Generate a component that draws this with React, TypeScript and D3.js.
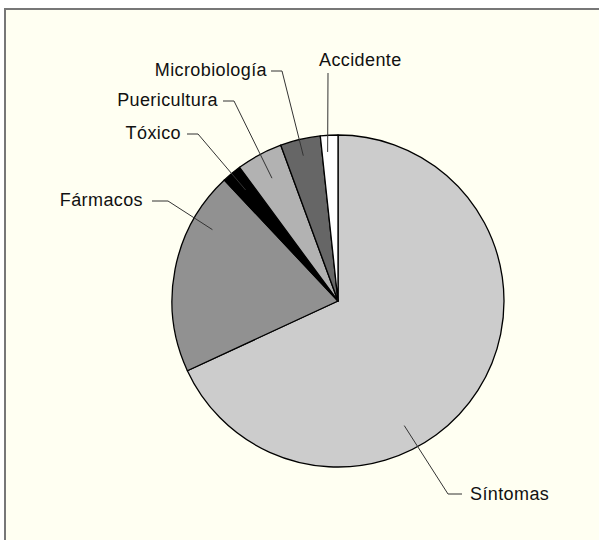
import React from 'react';
import * as d3 from 'd3';

const categories = ['Síntomas', 'Fármacos', 'Tóxico', 'Puericultura', 'Microbiología', 'Accidente'];
const values = [68.1, 19.9, 1.9, 4.5, 3.9, 1.7];
const shades = ['#cccccc', '#919191', '#000000', '#b2b2b2', '#666666', '#ffffff'];
// where each leader line starts inside its slice: fraction of the slice angle, fraction of the radius
const pointerAngle = [0.62, 0.76, 0.5, 0.5, 0.48, 0.35];
const pointerRadius = [0.85, 0.87, 0.87, 0.84, 0.9, 0.9];

// label placement (text x/y, anchor, horizontal hook from x1 to x2 at text line)
const labelLayout = [
  { x: 470, y: 500, anchor: 'start', hook: [462, 448], hy: 494 },
  { x: 143, y: 206, anchor: 'end', hook: [152, 168], hy: 201 },
  { x: 181, y: 139, anchor: 'end', hook: [187, 198], hy: 134 },
  { x: 218, y: 106, anchor: 'end', hook: [223, 234], hy: 101 },
  { x: 267, y: 76, anchor: 'end', hook: [271, 282], hy: 71 },
  { x: 319, y: 66, anchor: 'start', hook: [328, 328], hy: 73 },
];

const W = 599;
const H = 540;
const cx = 338;
const cy = 301;
const R = 166;

const App = () => {
  const pie = d3
    .pie<number>()
    .sort(null)
    .value((d) => d)
    .startAngle(0)
    .endAngle(2 * Math.PI);
  const arcs = pie(values);
  const arc = d3.arc<d3.PieArcDatum<number>>().innerRadius(0).outerRadius(R);

  const pointer = (i: number) => {
    const a = arcs[i];
    const ang = a.startAngle + (a.endAngle - a.startAngle) * pointerAngle[i];
    const r = R * pointerRadius[i];
    return [cx + r * Math.sin(ang), cy - r * Math.cos(ang)];
  };

  return (
    <div style={{ position: 'absolute', left: 0, top: 0 }}>
      <svg width={W} height={H} style={{ display: 'block' }}>
        <rect x={0} y={0} width={W} height={H} fill="#ffffff" />
        <rect x={5} y={9} width={W} height={H} fill="#fffff2" />
        <line x1={4} x2={W} y1={9} y2={9} stroke="#777" strokeWidth={2} />
        <line x1={5} x2={5} y1={8} y2={H} stroke="#777" strokeWidth={2} />
        <g transform={`translate(${cx},${cy})`}>
          {arcs.map((a, i) => (
            <path
              key={categories[i]}
              d={arc(a) as string}
              fill={shades[i]}
              stroke="#000"
              strokeWidth={1.3}
              strokeLinejoin="round"
            />
          ))}
        </g>
        {categories.map((c, i) => {
          const l = labelLayout[i];
          const [px, py] = pointer(i);
          const pts: [number, number][] = [
            [l.hook[0], l.hy],
            [l.hook[1], l.hy],
            [px, py],
          ];
          return (
            <g key={c}>
              <path
                d={d3.line()(pts) as string}
                fill="none"
                stroke="#333"
                strokeWidth={1}
              />
              <text
                x={l.x}
                y={l.y}
                textAnchor={l.anchor}
                fontFamily="'Liberation Sans', Arial, Helvetica, sans-serif"
                fontSize={18}
                letterSpacing={0.4}
                fill="#111"
              >
                {c}
              </text>
            </g>
          );
        })}
      </svg>
    </div>
  );
};

export default App;
